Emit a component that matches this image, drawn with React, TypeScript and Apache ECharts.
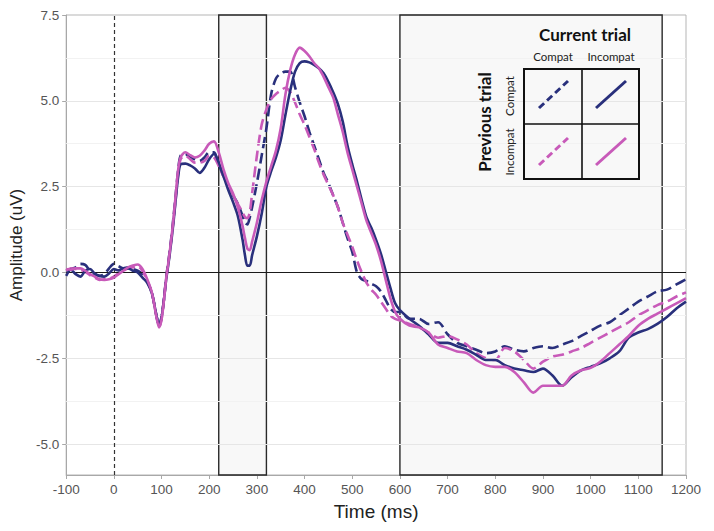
import React, { useEffect, useRef } from "react";
import * as echarts from "echarts";

// Time points (ms)
const times = [
  -100, -90, -80, -70, -60, -50, -40, -30, -20, -10, 0, 10, 20, 30, 40, 50, 60, 70,
  80, 90, 95, 100, 105, 110, 115, 120, 125, 130, 135,
  140, 150, 160, 170, 180, 190, 200, 210, 220, 230, 240, 250, 260, 270,
  275, 280, 285,
  290, 300, 310, 320, 330, 340, 350, 360, 370, 380, 390, 400, 410, 420, 430, 440, 450,
  460, 470, 480, 490, 500, 510, 520, 530, 540, 550, 560, 570, 580, 590, 600,
  620, 640, 660, 680, 700, 720, 740, 760, 780, 800, 820, 840, 860, 880, 900, 920, 940,
  960, 980, 1000, 1020, 1040, 1060, 1080, 1100, 1120, 1140, 1160, 1180, 1200,
];

// Previous compat / current compat (navy dashed)
const compatCompat = [
  0.05, 0.1, 0.15, 0.25, 0.22, 0.05, -0.05, -0.1, -0.05, 0.12, 0.25, 0.18, 0.12, 0.15, 0.1, 0.05, -0.05, -0.25,
  -0.6, -1.3, -1.52, -1.3, -0.78, -0.12, 0.38, 0.95, 1.6, 2.3, 3.0,
  3.4, 3.45, 3.35, 3.3, 3.25, 3.35, 3.5, 3.5, 3.15, 2.8, 2.55, 2.25, 2.0, 1.65,
  1.45, 1.4, 1.6,
  1.9, 2.6, 3.4, 4.2, 5.2, 5.65, 5.8, 5.85, 5.85, 5.4, 4.95, 4.55, 4.1, 3.7, 3.3, 2.9, 2.6,
  2.25, 1.9, 1.45, 1.0, 0.6, 0.0, -0.2, -0.25, -0.33, -0.4, -0.55, -0.8, -1.05, -1.15, -1.15,
  -1.35, -1.35, -1.5, -1.45, -1.8, -2.05, -2.15, -2.25, -2.35, -2.3, -2.15, -2.25, -2.3, -2.2, -2.15, -2.2, -2.1,
  -2.0, -1.85, -1.7, -1.55, -1.45, -1.25, -1.05, -0.85, -0.7, -0.55, -0.5, -0.35, -0.2,
];

// Previous compat / current incompat (navy solid)
const compatIncompat = [
  -0.1, 0.08, -0.05, -0.12, 0.05, 0.1, -0.03, -0.1, -0.12, -0.03, 0.1, 0.06, 0.12, 0.12, 0.05, 0.0, -0.15, -0.3,
  -0.62, -1.3, -1.55, -1.32, -0.8, -0.18, 0.3, 0.85, 1.45, 2.15, 2.8,
  3.15, 3.17, 3.12, 3.03, 2.9, 3.05, 3.3, 3.45, 3.2, 2.8, 2.4, 2.05, 1.65, 0.95,
  0.5, 0.2, 0.2,
  0.5, 1.05, 1.7, 2.5, 2.95, 3.35, 3.85, 4.6, 5.3, 5.85, 6.1, 6.15, 6.12, 6.05, 5.95, 5.8, 5.55,
  5.25, 4.9, 4.4, 3.7, 3.15, 2.65, 2.1, 1.6, 1.3, 0.95, 0.55, 0.05, -0.45, -0.9, -1.1,
  -1.35, -1.55, -1.8, -2.05, -2.05, -2.15, -2.25, -2.4, -2.55, -2.55, -2.7, -2.8, -2.85, -2.9, -2.8, -3.0, -3.3,
  -3.05, -2.85, -2.75, -2.65, -2.5, -2.3, -1.9, -1.75, -1.65, -1.5, -1.3, -1.05, -0.85,
];

// Previous incompat / current compat (pink dashed)
const incompatCompat = [
  0.05, 0.12, 0.1, 0.08, 0.02, -0.08, -0.15, -0.22, -0.2, -0.18, -0.12, -0.02, 0.05, 0.12, 0.15, 0.18, 0.05, -0.25,
  -0.62, -1.32, -1.58, -1.35, -0.8, -0.14, 0.36, 0.9, 1.5, 2.2, 2.9,
  3.3, 3.4, 3.3, 3.2, 3.2, 3.25, 3.4, 3.35, 3.1, 2.8, 2.55, 2.25, 2.0, 1.75,
  1.62, 1.58, 1.75,
  2.3, 3.4, 4.3, 4.75, 5.05, 5.2, 5.3, 5.38, 5.25, 4.95, 4.6, 4.3, 3.95, 3.6, 3.2, 2.85, 2.55,
  2.25, 1.9, 1.45, 1.1, 0.75, 0.35, 0.0, -0.3, -0.5, -0.65, -0.85, -1.05, -1.25, -1.35, -1.4,
  -1.5, -1.6, -1.75, -1.9, -1.85, -1.95, -2.1, -2.35, -2.5, -2.55, -2.2, -2.3, -2.55, -2.8, -2.6, -2.45, -2.4,
  -2.3, -2.2, -2.05, -1.9, -1.75, -1.6, -1.45, -1.25, -1.1, -0.95, -0.85, -0.7, -0.58,
];

// Previous incompat / current incompat (pink solid)
const incompatIncompat = [
  0.1, 0.08, 0.12, 0.12, 0.05, -0.05, -0.12, -0.2, -0.22, -0.2, -0.15, -0.05, 0.05, 0.15, 0.2, 0.23, 0.1, -0.2,
  -0.6, -1.35, -1.6, -1.38, -0.82, -0.15, 0.35, 0.92, 1.55, 2.3, 3.0,
  3.35, 3.5, 3.42, 3.35, 3.4, 3.55, 3.75, 3.82, 3.5, 3.0, 2.6, 2.3, 1.9, 1.35,
  1.0, 0.7, 0.65,
  0.9, 1.45, 2.1, 2.65, 3.1, 3.55, 4.2, 5.2, 5.9, 6.35, 6.55, 6.45, 6.3, 6.1, 5.95, 5.7, 5.4,
  5.1, 4.6, 4.1, 3.5, 3.0, 2.5, 2.0, 1.5, 1.15, 0.8, 0.35, -0.2, -0.75, -1.15, -1.35,
  -1.55, -1.6, -1.75, -2.1, -2.2, -2.3, -2.35, -2.55, -2.7, -2.75, -2.75, -2.9, -3.2, -3.5, -3.3, -3.3, -3.3,
  -3.0, -2.85, -2.78, -2.6, -2.35, -2.1, -1.85, -1.55, -1.35, -1.2, -1.05, -0.9, -0.75,
];

const yTickValues = [-5, -2.5, 0, 2.5, 5, 7.5];
const majorGrid = [-5, -2.5, 2.5, 5];
const minorGrid = [-3.75, -1.25, 1.25, 3.75, 6.25];
const windows = [
  [220, 320],
  [600, 1150],
];

const NAVY = "#29307c";
const PINK = "#c85ab9";

const pair = (vals: number[]) => times.map((t, i) => [t, vals[i]]);

export default function App() {
  const ref = useRef<HTMLDivElement>(null);
  useEffect(() => {
    if (!ref.current) return;
    const chart = echarts.init(ref.current, null, { renderer: "svg" });
    const dash = [11, 5];
    const lineSeries = (name: string, vals: number[], color: string, dashed: boolean, z: number) => ({
      name,
      type: "line",
      data: pair(vals),
      showSymbol: false,
      smooth: 0.3,
      z,
      lineStyle: { color, width: 2.6, type: dashed ? dash : "solid" },
      silent: true,
    });
    const legendFont = "Lato, 'Open Sans', sans-serif";
    const G = 100;
    chart.setOption({
      animation: false,
      backgroundColor: "#ffffff",
      grid: {
        left: 62,
        right: 28,
        top: 15,
        bottom: 56,
        show: true,
        borderColor: "#b5b5b5",
        borderWidth: 1,
        backgroundColor: "#ffffff",
      },
      xAxis: {
        type: "value",
        min: -100,
        max: 1200,
        interval: 100,
        name: "Time (ms)",
        nameLocation: "middle",
        nameGap: 27,
        nameTextStyle: { fontSize: 19, color: "#222", fontFamily: "'Liberation Sans', Arial, sans-serif" },
        axisLine: { onZero: false, lineStyle: { color: "#a8a8a8", width: 1 } },
        axisTick: { lineStyle: { color: "#a8a8a8" }, length: 4 },
        axisLabel: {
          color: "#555",
          fontSize: 13.5,
          margin: 7,
          fontFamily: "'Liberation Sans', Arial, sans-serif",
          formatter: (v: number) => String(v),
        },
        splitLine: { show: false },
      },
      yAxis: {
        type: "value",
        min: -5.9,
        max: 7.5,
        name: "Amplitude (uV)",
        nameLocation: "middle",
        nameGap: 37,
        nameRotate: 90,
        nameTextStyle: { fontSize: 17, color: "#222", fontFamily: "'Liberation Sans', Arial, sans-serif" },
        axisLine: { onZero: false, lineStyle: { color: "#a8a8a8", width: 1 } },
        axisTick: { customValues: yTickValues, lineStyle: { color: "#a8a8a8" }, length: 4 },
        axisLabel: {
          customValues: yTickValues,
          color: "#555",
          fontSize: 13.5,
          margin: 7,
          fontFamily: "'Liberation Sans', Arial, sans-serif",
          formatter: (v: number) => v.toFixed(1),
        },
        splitLine: { show: false },
      },
      series: [
        {
          type: "line",
          data: [],
          z: 1,
          silent: true,
          markArea: {
            silent: true,
            itemStyle: { color: "rgba(0,0,0,0.028)", borderColor: "#2a2a2a", borderWidth: 1.4 },
            data: windows.map(([a, b]) => [{ xAxis: a }, { xAxis: b }]),
          },
          markLine: {
            silent: true,
            symbol: ["none", "none"],
            label: { show: false },
            data: [
              ...minorGrid.map((v) => ({ yAxis: v, lineStyle: { color: "#f2f2f2", width: 1, type: "solid" } })),
              ...majorGrid.map((v) => ({ yAxis: v, lineStyle: { color: "#e6e6e6", width: 1, type: "solid" } })),
            ],
          },
        },
        {
          type: "line",
          data: [],
          z: 2,
          silent: true,
          markLine: {
            silent: true,
            symbol: ["none", "none"],
            label: { show: false },
            data: [
              { yAxis: 0, lineStyle: { color: "#1a1a1a", width: 1.2, type: "solid" } },
              { xAxis: 0, lineStyle: { color: "#333", width: 1.2, type: [4, 3] } },
            ],
          },
        },
        lineSeries("Compat-Compat", compatCompat, NAVY, true, 3),
        lineSeries("Incompat-Compat", incompatCompat, PINK, true, 4),
        lineSeries("Compat-Incompat", compatIncompat, NAVY, false, 5),
        lineSeries("Incompat-Incompat", incompatIncompat, PINK, false, 6),
      ],
      graphic: [
        {
          type: "text",
          z: G,
          x: 585,
          y: 34,
          style: {
            text: "Current trial",
            font: `bold 17px ${legendFont}`,
            fill: "#111",
            textAlign: "center",
            textVerticalAlign: "middle",
          },
        },
        {
          type: "text",
          z: G,
          x: 553,
          y: 56,
          style: { text: "Compat", font: `11.5px ${legendFont}`, fill: "#222", textAlign: "center", textVerticalAlign: "middle" },
        },
        {
          type: "text",
          z: G,
          x: 611,
          y: 56,
          style: { text: "Incompat", font: `11.5px ${legendFont}`, fill: "#222", textAlign: "center", textVerticalAlign: "middle" },
        },
        {
          type: "text",
          z: G,
          x: 484,
          y: 122,
          rotation: Math.PI / 2,
          style: {
            text: "Previous trial",
            font: `bold 17px ${legendFont}`,
            fill: "#111",
            textAlign: "center",
            textVerticalAlign: "middle",
          },
        },
        {
          type: "text",
          z: G,
          x: 509,
          y: 96,
          rotation: Math.PI / 2,
          style: { text: "Compat", font: `11.5px ${legendFont}`, fill: "#222", textAlign: "center", textVerticalAlign: "middle" },
        },
        {
          type: "text",
          z: G,
          x: 509,
          y: 152,
          rotation: Math.PI / 2,
          style: { text: "Incompat", font: `11.5px ${legendFont}`, fill: "#222", textAlign: "center", textVerticalAlign: "middle" },
        },
        {
          type: "rect",
          z: G,
          shape: { x: 524, y: 69, width: 115, height: 110 },
          style: { fill: "none", stroke: "#111", lineWidth: 2 },
        },
        { type: "line", z: G, shape: { x1: 582, y1: 69, x2: 582, y2: 179 }, style: { stroke: "#111", lineWidth: 1.6 } },
        { type: "line", z: G, shape: { x1: 524, y1: 124, x2: 639, y2: 124 }, style: { stroke: "#111", lineWidth: 1.6 } },
        { type: "line", z: G, shape: { x1: 539, y1: 108, x2: 568, y2: 81 }, style: { stroke: NAVY, lineWidth: 3, lineDash: [7, 4] } },
        { type: "line", z: G, shape: { x1: 596, y1: 108, x2: 626, y2: 81 }, style: { stroke: NAVY, lineWidth: 3 } },
        { type: "line", z: G, shape: { x1: 539, y1: 165, x2: 568, y2: 138 }, style: { stroke: PINK, lineWidth: 3, lineDash: [7, 4] } },
        { type: "line", z: G, shape: { x1: 596, y1: 165, x2: 626, y2: 138 }, style: { stroke: PINK, lineWidth: 3 } },
      ],
    });
    return () => chart.dispose();
  }, []);
  return (
    <div
      ref={ref}
      style={{ position: "fixed", left: 0, top: 0, width: 714, height: 531, background: "#fff" }}
    />
  );
}
